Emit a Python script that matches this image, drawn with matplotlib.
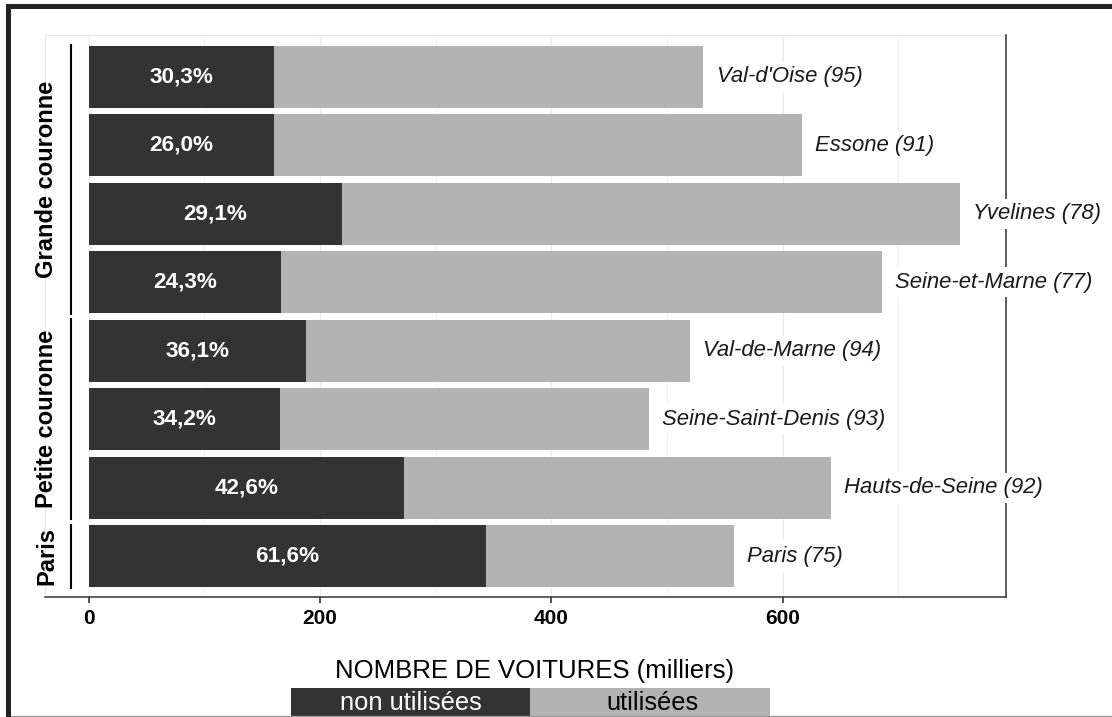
import matplotlib
matplotlib.use("Agg")
import matplotlib.pyplot as plt
from matplotlib.patches import Rectangle
from matplotlib.lines import Line2D
from matplotlib.transforms import blended_transform_factory
import numpy as np

plt.rcParams['font.family'] = ['Liberation Sans', 'DejaVu Sans']

# ---------------- data ----------------
departements = ["Val-d'Oise (95)", "Essone (91)", "Yvelines (78)", "Seine-et-Marne (77)",
                "Val-de-Marne (94)", "Seine-Saint-Denis (93)", "Hauts-de-Seine (92)", "Paris (75)"]
groupes = ["Grande couronne", "Grande couronne", "Grande couronne", "Grande couronne",
           "Petite couronne", "Petite couronne", "Petite couronne", "Paris"]
non_utilisees = [160.5, 160.0, 219.0, 166.5, 187.5, 165.0, 273.0, 343.5]
utilisees = [371.0, 456.5, 534.5, 519.0, 332.5, 319.0, 368.5, 214.5]
pourcentages = ["30,3%", "26,0%", "29,1%", "24,3%", "36,1%", "34,2%", "42,6%", "61,6%"]
x_ticks = [0, 200, 400, 600]
x_title = "NOMBRE DE VOITURES (milliers)"
legend_labels = ["non utilisées", "utilisées"]

DARK = "#333333"
LIGHT = "#b3b3b3"

W, H = 1112, 717
fig = plt.figure(figsize=(W / 100, H / 100), dpi=100)
fig.patch.set_facecolor("white")

def fx(px):
    return px / W

def fy(py):
    return 1 - py / H

ax = fig.add_axes([fx(45), fy(597), fx(1005.7) - fx(45), fy(35) - fy(597)])

n = len(departements)
ypos = np.arange(n)[::-1]  # top row first
non_arr = np.array(non_utilisees)
uti_arr = np.array(utilisees)
totals = non_arr + uti_arr

ax.barh(ypos, non_arr, height=0.9, color=DARK, zorder=2)
ax.barh(ypos, uti_arr, left=non_arr, height=0.9, color=LIGHT, zorder=2)

# percentage labels
for y, v, p in zip(ypos, non_arr, pourcentages):
    ax.text(v / 2, y, p, ha="center", va="center", color="white",
            fontsize=16.2, fontweight="bold", zorder=3)

# department labels
for y, t, lab in zip(ypos, totals, departements):
    ax.annotate(lab, xy=(t, y), xytext=(9.5, 0), textcoords="offset points",
                ha="left", va="center", fontsize=15.9, fontstyle="italic",
                color="#1a1a1a", zorder=10, annotation_clip=False,
                bbox=dict(boxstyle="square,pad=0.2", fc="white", ec="none"))

ax.set_xlim(-37.8, 792.8)
ax.set_ylim(-0.596, n - 1 + 0.61)

ax.set_xticks(x_ticks)
ax.set_xticklabels([str(t) for t in x_ticks], fontsize=15, fontweight="bold", color="black")
ax.set_xticks([100, 300, 500, 700], minor=True)
ax.tick_params(axis="x", which="major", length=4, width=1.2, color="#333333", pad=5)
ax.tick_params(axis="x", which="minor", length=0)
ax.set_yticks([])

ax.grid(axis="x", which="major", color="#ebebeb", linewidth=1.0, zorder=0)
ax.grid(axis="x", which="minor", color="#f0f0f0", linewidth=0.8, zorder=0)
ax.grid(axis="y", visible=False)
ax.set_axisbelow(True)

for s in ["top", "left"]:
    ax.spines[s].set_color("#e6e6e6")
    ax.spines[s].set_linewidth(0.8)
for s in ["bottom", "right"]:
    ax.spines[s].set_color("#333333")
    ax.spines[s].set_linewidth(1.1)
ax.spines["right"].set_zorder(5)

# group labels and brackets
trans = blended_transform_factory(fig.transFigure, ax.transData)
group_order = []
for g in groupes:
    if g not in group_order:
        group_order.append(g)
for g in group_order:
    ys = [y for y, gg in zip(ypos, groupes) if gg == g]
    lo, hi = min(ys) - 0.46, max(ys) + 0.46
    fig.add_artist(Line2D([fx(70.7), fx(70.7)], [lo, hi], transform=trans,
                          color="black", linewidth=1.5))
    fig.text(fx(46.5), (lo + hi) / 2, g, transform=trans, rotation=90,
             ha="center", va="center", fontsize=17, fontweight="bold", color="black")

# axis title
fig.text(fx(535), fy(678), x_title, ha="center", va="baseline", fontsize=18.5, color="black")

# legend boxes (bottom, cut by image edge)
fig.add_artist(Rectangle((fx(291), fy(730)), fx(530) - fx(291), fy(688) - fy(730),
                         transform=fig.transFigure, facecolor=DARK, edgecolor="none"))
fig.add_artist(Rectangle((fx(530), fy(730)), fx(770) - fx(530), fy(688) - fy(730),
                         transform=fig.transFigure, facecolor=LIGHT, edgecolor="none"))
fig.text(fx(411), fy(710), legend_labels[0], ha="center", va="baseline",
         fontsize=18.4, color="white")
fig.text(fx(652), fy(710), legend_labels[1], ha="center", va="baseline",
         fontsize=18.4, color="black")

# outer frame (screenshot style)
fig.add_artist(Rectangle((fx(6), fy(9)), fx(W) - fx(6), fy(4) - fy(9),
                         transform=fig.transFigure, facecolor="#222222", edgecolor="none"))
fig.add_artist(Rectangle((fx(6), fy(H)), fx(11) - fx(6), fy(4) - fy(H),
                         transform=fig.transFigure, facecolor="#222222", edgecolor="none"))
fig.add_artist(Line2D([fx(11), 1], [fy(716), fy(716)], transform=fig.transFigure,
                      color="#9a9a9a", linewidth=1.0))

fig.savefig("out.png", dpi=100)
